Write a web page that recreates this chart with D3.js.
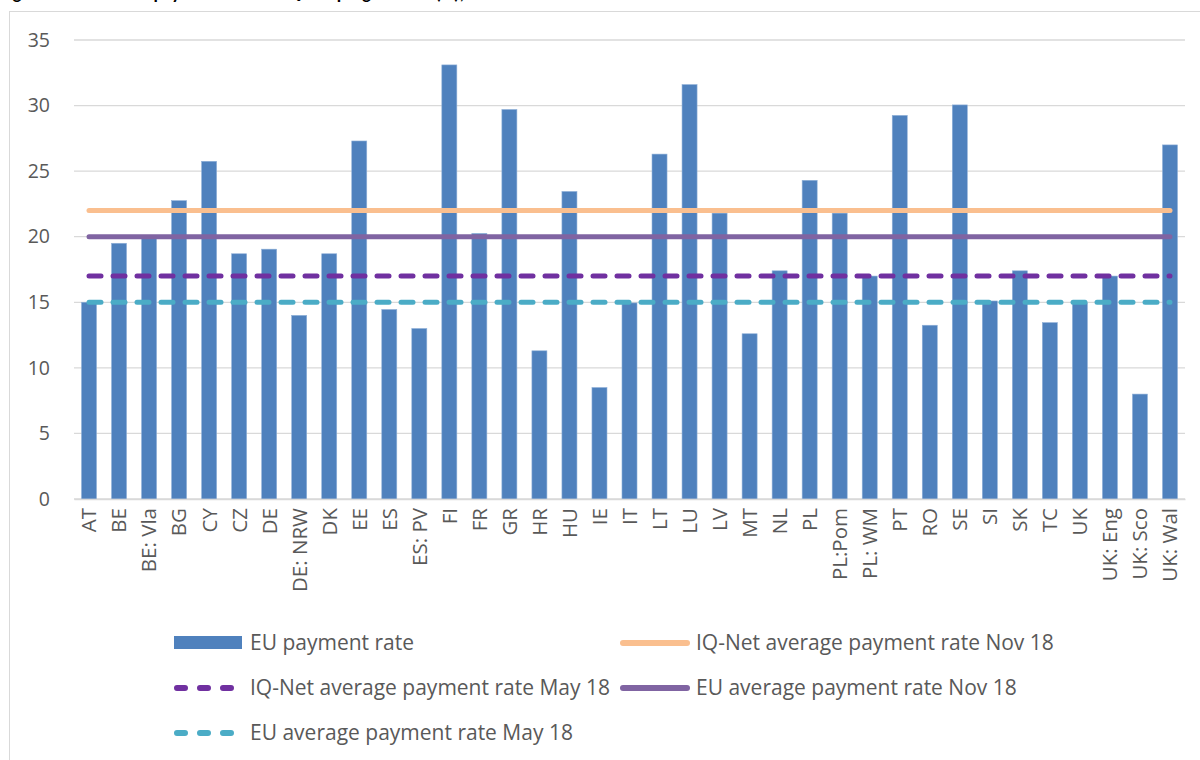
<!DOCTYPE html>
<html><head><meta charset="utf-8">
<script src="https://cdn.jsdelivr.net/npm/d3@7"></script>
<style>body{margin:0;background:#fff;} svg{display:block;}</style>
</head><body>
<svg id="c" width="1200" height="760"></svg>
<script>
const categories = ["AT","BE","BE: Vla","BG","CY","CZ","DE","DE: NRW","DK","EE","ES","ES: PV","FI","FR","GR","HR","HU","IE","IT","LT","LU","LV","MT","NL","PL","PL:Pom","PL: WM","PT","RO","SE","SI","SK","TC","UK","UK: Eng","UK: Sco","UK: Wal"];
const euPaymentRate = [15.0,19.5,19.9,22.75,25.75,18.7,19.05,14.0,18.7,27.3,14.45,13.0,33.1,20.25,29.7,11.3,23.45,8.5,14.95,26.3,31.6,21.8,12.6,17.4,24.3,21.8,17.0,29.25,13.25,30.05,15.1,17.4,13.45,14.95,17.0,8.0,27.0];
const iqNetNov18 = 22;
const euNov18 = 20;
const iqNetMay18 = 17;
const euMay18 = 15;
const yTicks = [0,5,10,15,20,25,30,35];
const title = "Figure 4: Current EU payment rates in IQ-Net programmes (%), Nov 2018";

(function(){
const svg = d3.select("#c");
const font = "'Open Sans', sans-serif";
const grey = "#595959";

svg.append("text").attr("x",0).attr("y",-1).attr("font-family","Carlito, 'Liberation Sans', sans-serif")
  .attr("font-weight","bold").attr("font-size",18).attr("fill","#000").text(title);

svg.append("rect").attr("x",9.5).attr("y",11.5).attr("width",1200).attr("height",760)
  .attr("fill","#fff").attr("stroke","#d9d9d9");

const mLeft = 74, mRight = 1185, mTop = 40, mBottom = 499;
const x = d3.scaleBand().domain(categories).range([mLeft,mRight]).paddingInner(0.5).paddingOuter(0.25);
const y = d3.scaleLinear().domain([0,35]).range([mBottom,mTop]);

svg.append("g").selectAll("line").data(yTicks).join("line")
  .attr("x1",mLeft).attr("x2",mRight).attr("y1",d=>y(d)).attr("y2",d=>y(d))
  .attr("stroke","#d9d9d9").attr("stroke-width",1.3);

const ya = svg.append("g").attr("transform",`translate(${mLeft},0)`)
  .call(d3.axisLeft(y).tickValues(yTicks).tickSize(0).tickPadding(24));
ya.select(".domain").remove();
ya.selectAll("text").attr("font-family",font).attr("font-size",19.5).attr("fill",grey);

svg.append("g").selectAll("rect").data(categories).join("rect")
  .attr("x",d=>x(d)).attr("width",x.bandwidth())
  .attr("y",(d,i)=>y(euPaymentRate[i])).attr("height",(d,i)=>y(0)-y(euPaymentRate[i]))
  .attr("fill","#4F81BD").attr("stroke","#8fb0d8").attr("stroke-width",0.6);

const xa = svg.append("g").attr("transform",`translate(0,${mBottom})`)
  .call(d3.axisBottom(x).tickSize(0).tickPadding(0));
xa.select(".domain").attr("stroke","#d9d9d9").attr("stroke-width",1.3);
xa.selectAll("text").attr("font-family",font).attr("font-size",20.5).attr("fill",grey)
  .attr("transform","rotate(-90)").attr("text-anchor","end").attr("dy","0.36em")
  .attr("x",-9).attr("y",0);

const x0 = x(categories[0]) + x.bandwidth()/2;
const x1 = x(categories[categories.length-1]) + x.bandwidth()/2;
const refLines = [
  {v:iqNetNov18, color:"#FABF8F", dash:null},
  {v:euNov18, color:"#8064A2", dash:null},
  {v:iqNetMay18, color:"#7030A0", dash:"12 12"},
  {v:euMay18, color:"#4BACC6", dash:"12 12"}
];
svg.append("g").selectAll("line").data(refLines).join("line")
  .attr("x1",x0).attr("x2",x1).attr("y1",d=>y(d.v)).attr("y2",d=>y(d.v))
  .attr("stroke",d=>d.color).attr("stroke-width",5).attr("stroke-linecap","round")
  .attr("stroke-dasharray",d=>d.dash);

const legend = [
  {label:"EU payment rate", type:"rect", color:"#4F81BD", lx:174, ly:643},
  {label:"IQ-Net average payment rate Nov 18", type:"line", color:"#FABF8F", dash:null, lx:620, ly:643},
  {label:"IQ-Net average payment rate May 18", type:"line", color:"#7030A0", dash:"8 15", lx:174, ly:688},
  {label:"EU average payment rate Nov 18", type:"line", color:"#8064A2", dash:null, lx:620, ly:688},
  {label:"EU average payment rate May 18", type:"line", color:"#4BACC6", dash:"8 15", lx:174, ly:733}
];
const lg = svg.append("g");
legend.forEach(d=>{
  if(d.type==="rect"){
    lg.append("rect").attr("x",d.lx).attr("y",d.ly-7).attr("width",68).attr("height",13).attr("fill",d.color);
    lg.append("text").attr("x",d.lx+76).attr("y",d.ly).attr("dy","0.35em").attr("font-family",font)
      .attr("font-size",21).attr("fill",grey).text(d.label);
  } else {
    lg.append("line").attr("x1",d.lx+3).attr("x2",d.lx+67).attr("y1",d.ly).attr("y2",d.ly)
      .attr("stroke",d.color).attr("stroke-width",6).attr("stroke-linecap","round").attr("stroke-dasharray",d.dash);
    lg.append("text").attr("x",d.lx+76).attr("y",d.ly).attr("dy","0.35em").attr("font-family",font)
      .attr("font-size",21).attr("fill",grey).text(d.label);
  }
});
})();
</script>
</body></html>
